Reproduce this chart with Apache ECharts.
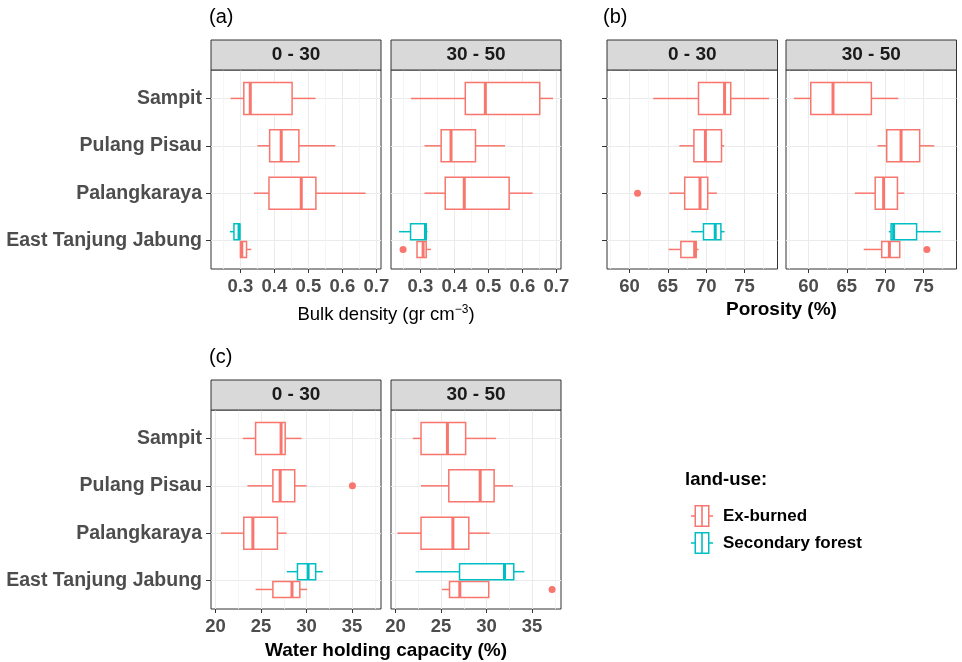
<!DOCTYPE html>
<html><head><meta charset="utf-8">
<script src="https://cdn.jsdelivr.net/npm/echarts@6/dist/echarts.min.js"></script>
<style>html,body{margin:0;padding:0;background:#fff}#c{width:962px;height:662px}</style>
</head><body><div id="c"></div>
<script>
// ---------- data ----------
const locations = ['Sampit', 'Pulang Pisau', 'Palangkaraya', 'East Tanjung Jabung'];
const depths = ['0 - 30', '30 - 50'];
const landUses = ['Ex-burned', 'Secondary forest'];

// box stats per location: [lower whisker, Q1, median, Q3, upper whisker]
const bulk_0_30_exBurned = [[0.271, 0.310, 0.329, 0.452, 0.521], [0.350, 0.386, 0.420, 0.472, 0.579], [0.340, 0.384, 0.479, 0.522, 0.668], [0.300, 0.300, 0.304, 0.318, 0.332]];
const bulk_0_30_secondary = [null, null, null, [0.269, 0.281, 0.296, 0.298, 0.298]];
const bulk_0_30_outliers = [];
const bulk_30_50_exBurned = [[0.272, 0.432, 0.491, 0.651, 0.690], [0.312, 0.361, 0.390, 0.462, 0.549], [0.312, 0.373, 0.429, 0.561, 0.630], [0.290, 0.290, 0.308, 0.317, 0.331]];
const bulk_30_50_secondary = [null, null, null, [0.237, 0.271, 0.315, 0.317, 0.321]];
const bulk_30_50_outliers = [[0.249, 3]]; // [value, location index]

const por_0_30_exBurned = [[63.1, 69.0, 72.4, 73.2, 78.2], [66.5, 68.4, 69.9, 72.0, 72.35], [65.2, 67.2, 69.2, 70.2, 71.4], [65.1, 66.7, 68.5, 68.7, 69.0]];
const por_0_30_secondary = [null, null, null, [68.05, 69.65, 71.18, 71.92, 72.4]];
const por_0_30_outliers = [[61.05, 2]];
const por_30_50_exBurned = [[58.1, 60.3, 63.2, 68.2, 71.7], [69.0, 70.2, 72.07, 74.5, 76.4], [66.05, 68.7, 69.8, 71.6, 72.5], [67.2, 69.55, 70.55, 71.9, 71.9]];
const por_30_50_secondary = [null, null, null, [70.46, 70.77, 71.1, 74.1, 77.25]];
const por_30_50_outliers = [[75.44, 3]];

const whc_0_30_exBurned = [[23.0, 24.4, 27.2, 27.65, 29.45], [23.5, 26.3, 27.1, 28.7, 30.0], [20.6, 23.1, 24.1, 26.8, 27.8], [24.4, 26.3, 28.4, 29.26, 30.06]];
const whc_0_30_secondary = [null, null, null, [27.83, 29.0, 30.17, 31.0, 31.78]];
const whc_0_30_outliers = [[35.04, 1]];
const whc_30_50_exBurned = [[21.9, 22.8, 25.7, 27.7, 31.05], [22.8, 25.85, 29.3, 30.83, 32.9], [20.2, 22.8, 26.3, 28.05, 30.35], [25.1, 25.93, 27.06, 30.24, 30.24]];
const whc_30_50_secondary = [null, null, null, [22.2, 27.03, 31.97, 32.99, 34.16]];
const whc_30_50_outliers = [[37.2, 3]];

// tick labels
const bulkTicks = [0.3, 0.4, 0.5, 0.6, 0.7];
const bulkMinor = [0.25, 0.35, 0.45, 0.55, 0.65];
const porTicks = [60, 65, 70, 75];
const porMinor = [57.5, 62.5, 67.5, 72.5, 77.5];
const whcTicks = [20, 25, 30, 35];
const whcMinor = [22.5, 27.5, 32.5, 37.5];
const locTicks = [1, 2, 3, 4];

// ---------- layout ----------
const RED = '#F8766D', TEAL = '#00BFC4';
const FONT = '"Liberation Sans", Arial, sans-serif';

const panels = [
  { g: { left: 211, top: 70, width: 170, height: 199 }, range: [0.2135, 0.7135], ticks: bulkTicks, minor: bulkMinor, dec: 1, ex: bulk_0_30_exBurned, sf: bulk_0_30_secondary, out: bulk_0_30_outliers, ylab: true, ytick: true, strip: depths[0] },
  { g: { left: 391, top: 70, width: 170, height: 199 }, range: [0.2135, 0.7135], ticks: bulkTicks, minor: bulkMinor, dec: 1, ex: bulk_30_50_exBurned, sf: bulk_30_50_secondary, out: bulk_30_50_outliers, ylab: false, ytick: false, strip: depths[1] },
  { g: { left: 607, top: 70, width: 170.5, height: 199 }, range: [57.07, 79.3], ticks: porTicks, minor: porMinor, dec: 0, ex: por_0_30_exBurned, sf: por_0_30_secondary, out: por_0_30_outliers, ylab: false, ytick: true, strip: depths[0] },
  { g: { left: 786, top: 70, width: 170.5, height: 199 }, range: [57.07, 79.3], ticks: porTicks, minor: porMinor, dec: 0, ex: por_30_50_exBurned, sf: por_30_50_secondary, out: por_30_50_outliers, ylab: false, ytick: false, strip: depths[1] },
  { g: { left: 211, top: 410, width: 170, height: 199 }, range: [19.5, 38.18], ticks: whcTicks, minor: whcMinor, dec: 0, ex: whc_0_30_exBurned, sf: whc_0_30_secondary, out: whc_0_30_outliers, ylab: true, ytick: true, strip: depths[0] },
  { g: { left: 391, top: 410, width: 170, height: 199 }, range: [19.5, 38.18], ticks: whcTicks, minor: whcMinor, dec: 0, ex: whc_30_50_exBurned, sf: whc_30_50_secondary, out: whc_30_50_outliers, ylab: false, ytick: false, strip: depths[1] }
];

const grid = [], xAxis = [], yAxis = [], series = [], graphic = [];

function boxRender(color) {
  return function (params, api) {
    const y = api.value(0);
    const pMin = api.coord([api.value(1), y]);
    const pQ1 = api.coord([api.value(2), y]);
    const pMed = api.coord([api.value(3), y]);
    const pQ3 = api.coord([api.value(4), y]);
    const pMax = api.coord([api.value(5), y]);
    const h = api.size([0, api.value(6)])[1];
    const cy = pQ1[1];
    const st = { stroke: color, lineWidth: 1.5, fill: null };
    return {
      type: 'group', children: [
        { type: 'line', shape: { x1: pMin[0], y1: cy, x2: pQ1[0], y2: cy }, style: st },
        { type: 'line', shape: { x1: pQ3[0], y1: cy, x2: pMax[0], y2: cy }, style: st },
        { type: 'rect', shape: { x: pQ1[0], y: cy - h / 2, width: pQ3[0] - pQ1[0], height: h }, style: { stroke: color, lineWidth: 1.5, fill: '#fff' } },
        { type: 'line', shape: { x1: pMed[0], y1: cy - h / 2, x2: pMed[0], y2: cy + h / 2 }, style: { stroke: color, lineWidth: 3 } }
      ]
    };
  };
}

function boxData(stats, other, sign) {
  const out = [];
  stats.forEach((s, i) => {
    if (!s) return;
    const dodge = other[i] != null;
    out.push([i + 1 + (dodge ? sign * 0.1875 : 0), s[0], s[1], s[2], s[3], s[4], dodge ? 0.3375 : 0.675]);
  });
  return out;
}

panels.forEach((p, i) => {
  grid.push(Object.assign({ show: true, borderColor: '#333', borderWidth: 1, backgroundColor: '#fff', containLabel: false }, p.g));
  xAxis.push({
    type: 'value', gridIndex: i, min: p.range[0], max: p.range[1],
    axisLine: { show: false },
    axisTick: { show: true, length: 4, lineStyle: { color: '#333', width: 1 }, customValues: p.ticks },
    axisLabel: { show: true, customValues: p.ticks, margin: 8, color: '#4d4d4d', fontSize: 18.5, fontWeight: 'bold', fontFamily: FONT, formatter: v => Number(v).toFixed(p.dec) },
    splitLine: { show: true, lineStyle: { color: '#ebebeb', width: 1 } }
  });
  xAxis.push({
    type: 'value', gridIndex: i, min: p.range[0], max: p.range[1],
    axisLine: { show: false },
    axisTick: { show: false, customValues: p.minor },
    axisLabel: { show: false, customValues: p.minor },
    splitLine: { show: true, lineStyle: { color: '#f3f3f3', width: 0.8 } }
  });
  yAxis.push({
    type: 'value', gridIndex: i, min: 0.4, max: 4.6, inverse: true,
    axisLine: { show: false },
    axisTick: { show: p.ytick, length: 5, lineStyle: { color: '#333', width: 1 }, customValues: locTicks },
    axisLabel: { show: p.ylab, customValues: locTicks, margin: 9, color: '#4d4d4d', fontSize: 19.5, fontWeight: 'bold', fontFamily: FONT, formatter: v => locations[Math.round(v) - 1] },
    splitLine: { show: true, lineStyle: { color: '#ebebeb', width: 1 } }
  });
  const xi = i * 2;
  series.push({
    type: 'custom', name: landUses[0], xAxisIndex: xi, yAxisIndex: i, z: 3,
    itemStyle: { color: RED }, encode: { x: [1, 2, 3, 4, 5], y: 0 },
    data: boxData(p.ex, p.sf, 1), renderItem: boxRender(RED)
  });
  series.push({
    type: 'custom', name: landUses[1], xAxisIndex: xi, yAxisIndex: i, z: 3,
    itemStyle: { color: TEAL }, encode: { x: [1, 2, 3, 4, 5], y: 0 },
    data: boxData(p.sf, p.ex, -1), renderItem: boxRender(TEAL)
  });
  if (p.out.length) {
    series.push({
      type: 'scatter', name: landUses[0], xAxisIndex: xi, yAxisIndex: i, z: 4,
      symbolSize: 7, itemStyle: { color: RED, opacity: 1 },
      data: p.out.map(o => [o[0], o[1] + 1 + (p.sf[o[1]] != null ? 0.1875 : 0)])
    });
  }
  // strip
  graphic.push({ type: 'rect', z: 10, shape: { x: p.g.left, y: p.g.top - 30, width: p.g.width, height: 30 }, style: { fill: '#d9d9d9', stroke: '#333', lineWidth: 1 } });
  graphic.push({ type: 'text', z: 11, x: p.g.left + p.g.width / 2, y: p.g.top - 15, style: { text: p.strip, align: 'center', verticalAlign: 'middle', fontSize: 19, fontWeight: 'bold', fill: '#1a1a1a', fontFamily: FONT } });
});

// panel tags & axis titles
const tagStyle = { fontSize: 20, fill: '#000', fontFamily: FONT, verticalAlign: 'middle', align: 'left' };
graphic.push({ type: 'text', x: 209, y: 17, style: Object.assign({ text: '(a)' }, tagStyle) });
graphic.push({ type: 'text', x: 603, y: 17, style: Object.assign({ text: '(b)' }, tagStyle) });
graphic.push({ type: 'text', x: 209, y: 357, style: Object.assign({ text: '(c)' }, tagStyle) });
graphic.push({ type: 'text', x: 386, y: 315, style: {
  text: '{n|Bulk density (gr cm}{s|−3}{n|)}', align: 'center', verticalAlign: 'middle', fontFamily: FONT,
  rich: { n: { fontSize: 18.5, fill: '#000', lineHeight: 22, fontFamily: FONT }, s: { fontSize: 12, fill: '#000', verticalAlign: 'top', fontFamily: FONT } } } });
graphic.push({ type: 'text', x: 781.5, y: 310, style: { text: 'Porosity (%)', align: 'center', verticalAlign: 'middle', fontSize: 19, fontWeight: 'bold', fill: '#000', fontFamily: FONT } });
graphic.push({ type: 'text', x: 386, y: 651, style: { text: 'Water holding capacity (%)', align: 'center', verticalAlign: 'middle', fontSize: 19, fontWeight: 'bold', fill: '#000', fontFamily: FONT } });
graphic.push({ type: 'text', x: 685, y: 480, style: { text: 'land-use:', align: 'left', verticalAlign: 'middle', fontSize: 18.5, fontWeight: 'bold', fill: '#000', fontFamily: FONT } });

const keyIcon = 'path://M0,10.3h3.5v1.4h-3.5z M3.5,0h1.5v22h-1.5z M17,0h1.5v22h-1.5z M3.5,0h15v1.5h-15z M3.5,20.5h15v1.5h-15z M10.2,0h1.6v22h-1.6z M18.5,10.3h3.5v1.4h-3.5z';

const option = {
  animation: false,
  backgroundColor: '#fff',
  grid, xAxis, yAxis, series, graphic,
  legend: {
    orient: 'vertical', left: 686, top: 500, itemWidth: 22, itemHeight: 22, itemGap: 5,
    selectedMode: false,
    data: landUses.map(n => ({ name: n, icon: keyIcon })),
    textStyle: { fontSize: 17, fontWeight: 'bold', color: '#000', fontFamily: FONT, padding: [0, 0, 0, 5] }
  }
};

const chart = echarts.init(document.getElementById('c'), null, { renderer: 'canvas' });
chart.setOption(option);
</script></body></html>
